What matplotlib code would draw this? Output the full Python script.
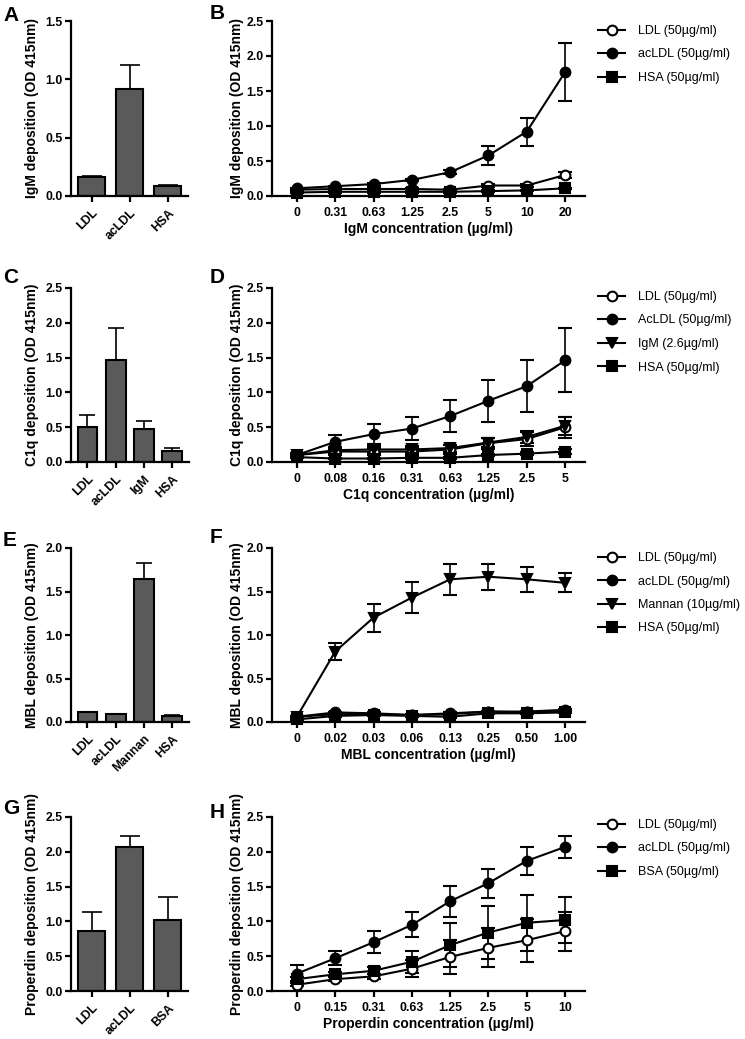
import matplotlib
matplotlib.use('Agg')
import matplotlib.pyplot as plt
import numpy as np
from matplotlib.ticker import FormatStrFormatter

plt.rcParams['font.family'] = ['Liberation Sans', 'DejaVu Sans']
plt.rcParams['font.weight'] = 'bold'
plt.rcParams['axes.labelweight'] = 'bold'

# ---------------- data ----------------
A_cats = ['LDL', 'acLDL', 'HSA']
A_vals = [0.16, 0.92, 0.09]
A_err = [0.01, 0.20, 0.005]

B_x = ['0', '0.31', '0.63', '1.25', '2.5', '5', '10', '20']
B_ldl = [0.09, 0.10, 0.10, 0.10, 0.09, 0.15, 0.15, 0.30]
B_ldl_err = [0.01, 0.01, 0.01, 0.01, 0.01, 0.02, 0.02, 0.04]
B_acldl = [0.11, 0.14, 0.17, 0.23, 0.34, 0.58, 0.92, 1.77]
B_acldl_err = [0.01, 0.01, 0.02, 0.02, 0.03, 0.13, 0.20, 0.41]
B_hsa = [0.05, 0.06, 0.06, 0.06, 0.06, 0.07, 0.08, 0.11]
B_hsa_err = [0.01, 0.01, 0.01, 0.01, 0.01, 0.01, 0.01, 0.01]

C_cats = ['LDL', 'acLDL', 'IgM', 'HSA']
C_vals = [0.51, 1.46, 0.47, 0.16]
C_err = [0.16, 0.46, 0.12, 0.04]

D_x = ['0', '0.08', '0.16', '0.31', '0.63', '1.25', '2.5', '5']
D_ldl = [0.10, 0.15, 0.15, 0.15, 0.18, 0.27, 0.33, 0.50]
D_ldl_err = [0.02, 0.05, 0.05, 0.05, 0.06, 0.08, 0.10, 0.15]
D_acldl = [0.10, 0.29, 0.40, 0.48, 0.66, 0.88, 1.09, 1.46]
D_acldl_err = [0.03, 0.10, 0.14, 0.17, 0.23, 0.30, 0.37, 0.46]
D_igm = [0.10, 0.17, 0.18, 0.18, 0.20, 0.28, 0.36, 0.52]
D_igm_err = [0.02, 0.04, 0.05, 0.05, 0.05, 0.06, 0.08, 0.13]
D_hsa = [0.07, 0.05, 0.05, 0.06, 0.06, 0.10, 0.12, 0.15]
D_hsa_err = [0.01, 0.01, 0.01, 0.01, 0.01, 0.02, 0.02, 0.03]

E_cats = ['LDL', 'acLDL', 'Mannan', 'HSA']
E_vals = [0.11, 0.09, 1.64, 0.07]
E_err = [0.01, 0.005, 0.19, 0.005]

F_x = ['0', '0.02', '0.03', '0.06', '0.13', '0.25', '0.50', '1.00']
F_ldl = [0.06, 0.09, 0.09, 0.08, 0.09, 0.12, 0.11, 0.13]
F_ldl_err = [0.01, 0.01, 0.01, 0.01, 0.01, 0.01, 0.01, 0.01]
F_acldl = [0.06, 0.11, 0.10, 0.08, 0.10, 0.12, 0.12, 0.14]
F_acldl_err = [0.01, 0.01, 0.01, 0.01, 0.01, 0.01, 0.01, 0.01]
F_mannan = [0.06, 0.81, 1.20, 1.43, 1.64, 1.67, 1.64, 1.60]
F_mannan_err = [0.01, 0.10, 0.16, 0.18, 0.18, 0.15, 0.14, 0.11]
F_hsa = [0.03, 0.07, 0.08, 0.07, 0.06, 0.10, 0.10, 0.11]
F_hsa_err = [0.01, 0.01, 0.01, 0.01, 0.01, 0.01, 0.01, 0.01]

G_cats = ['LDL', 'acLDL', 'BSA']
G_vals = [0.86, 2.07, 1.02]
G_err = [0.28, 0.16, 0.33]

H_x = ['0', '0.15', '0.31', '0.63', '1.25', '2.5', '5', '10']
H_ldl = [0.09, 0.17, 0.21, 0.32, 0.49, 0.62, 0.73, 0.86]
H_ldl_err = [0.02, 0.03, 0.04, 0.12, 0.24, 0.28, 0.31, 0.28]
H_acldl = [0.25, 0.47, 0.70, 0.95, 1.29, 1.55, 1.87, 2.07]
H_acldl_err = [0.12, 0.10, 0.16, 0.18, 0.22, 0.21, 0.20, 0.16]
H_bsa = [0.17, 0.24, 0.29, 0.42, 0.66, 0.84, 0.98, 1.02]
H_bsa_err = [0.03, 0.03, 0.05, 0.16, 0.32, 0.38, 0.40, 0.33]

# ---------------- layout ----------------
W, H = 745, 1039
fig = plt.figure(figsize=(W / 100, H / 100), dpi=100)

TICK_FS = 8.8
LABEL_FS = 10
LEG_FS = 9

def ax_at(l, r, t, b):
    return fig.add_axes([l / W, 1 - b / H, (r - l) / W, (b - t) / H])

def style(ax, ymax):
    for s in ['top', 'right']:
        ax.spines[s].set_visible(False)
    for s in ['left', 'bottom']:
        ax.spines[s].set_linewidth(1.6)
    ax.set_ylim(0, ymax)
    ax.set_yticks(np.arange(0, ymax + 1e-9, 0.5))
    ax.yaxis.set_major_formatter(FormatStrFormatter('%.1f'))
    ax.tick_params(width=1.6, length=4.5, labelsize=TICK_FS, pad=1.5)
    ax.tick_params(axis='x', pad=3.5)

def bar_panel(ax, cats, vals, errs, ymax, ylabel, xlim, width, cap):
    x = np.arange(len(cats))
    ax.bar(x, vals, width=width, color='#5a5a5a', edgecolor='black', linewidth=1.5, zorder=2)
    ax.errorbar(x, vals, yerr=[np.zeros(len(vals)), errs], fmt='none', ecolor='black',
                elinewidth=1.2, capsize=cap, capthick=1.2, zorder=1)
    style(ax, ymax)
    ax.set_xlim(*xlim)
    ax.set_xticks(x)
    ax.set_xticklabels(cats, rotation=45, ha='right', rotation_mode='anchor')
    ax.set_ylabel(ylabel, fontsize=LABEL_FS)
    ax.yaxis.set_label_coords((39 - 71) / 117, 0.5)

def line_panel(ax, xl, series, ymax, ylabel, xlabel, leg_xy):
    x = np.arange(len(xl))
    handles, labels = [], []
    for vals, errs, marker, face, ms, label in series:
        eb = ax.errorbar(x, vals, yerr=errs, color='black', marker=marker, mfc=face, mec='black',
                         ms=ms, mew=1.5, lw=1.5, elinewidth=1.2, capsize=5, capthick=1.2,
                         clip_on=False)
        for art in eb.get_children():
            art.set_clip_on(False)
        handles.append(eb.lines[0])
        labels.append(label)
    style(ax, ymax)
    ax.set_xlim(-0.65, 7.52)
    ax.set_xticks(x)
    ax.set_xticklabels(xl)
    ax.set_ylabel(ylabel, fontsize=LABEL_FS)
    ax.yaxis.set_label_coords((244 - 272) / 313, 0.5)
    ax.set_xlabel(xlabel, fontsize=LABEL_FS)
    ax.xaxis.set_label_coords(0.5, (196 - 222) / 174)
    ax.legend(handles, labels, loc='upper left', bbox_to_anchor=(leg_xy[0] / W, 1 - leg_xy[1] / H),
              bbox_transform=fig.transFigure, frameon=False, handlelength=2.16, handletextpad=1.0,
              labelspacing=0.92, borderaxespad=0, borderpad=0,
              prop={'family': 'Liberation Sans', 'weight': 'normal', 'size': LEG_FS})

rows = [(21, 196), (288, 462), (548, 722), (817, 991)]

axA = ax_at(71, 188, *rows[0])
bar_panel(axA, A_cats, A_vals, A_err, 1.5, 'IgM deposition (OD 415nm)', (-0.55, 2.53), 0.71, 7)
axB = ax_at(272, 585, *rows[0])
line_panel(axB, B_x, [
    (B_ldl, B_ldl_err, 'o', 'white', 7, 'LDL (50µg/ml)'),
    (B_acldl, B_acldl_err, 'o', 'black', 7, 'acLDL (50µg/ml)'),
    (B_hsa, B_hsa_err, 's', 'black', 6.5, 'HSA (50µg/ml)'),
], 2.5, 'IgM deposition (OD 415nm)', 'IgM concentration (µg/ml)', (598, 25))

axC = ax_at(71, 189, *rows[1])
bar_panel(axC, C_cats, C_vals, C_err, 2.5, 'C1q deposition (OD 415nm)', (-0.58, 3.59), 0.7, 6)
axD = ax_at(272, 585, *rows[1])
line_panel(axD, D_x, [
    (D_ldl, D_ldl_err, 'o', 'white', 7, 'LDL (50µg/ml)'),
    (D_acldl, D_acldl_err, 'o', 'black', 7, 'AcLDL (50µg/ml)'),
    (D_igm, D_igm_err, 'v', 'black', 7, 'IgM (2.6µg/ml)'),
    (D_hsa, D_hsa_err, 's', 'black', 6.5, 'HSA (50µg/ml)'),
], 2.5, 'C1q deposition (OD 415nm)', 'C1q concentration (µg/ml)', (598, 291))

axE = ax_at(71, 189, *rows[2])
bar_panel(axE, E_cats, E_vals, E_err, 2.0, 'MBL deposition (OD 415nm)', (-0.58, 3.59), 0.7, 6)
axF = ax_at(272, 585, *rows[2])
line_panel(axF, F_x, [
    (F_ldl, F_ldl_err, 'o', 'white', 7, 'LDL (50µg/ml)'),
    (F_acldl, F_acldl_err, 'o', 'black', 7, 'acLDL (50µg/ml)'),
    (F_mannan, F_mannan_err, 'v', 'black', 7, 'Mannan (10µg/ml)'),
    (F_hsa, F_hsa_err, 's', 'black', 6.5, 'HSA (50µg/ml)'),
], 2.0, 'MBL deposition (OD 415nm)', 'MBL concentration (µg/ml)', (598, 552))

axG = ax_at(71, 188, *rows[3])
bar_panel(axG, G_cats, G_vals, G_err, 2.5, 'Properdin deposition (OD 415nm)', (-0.55, 2.53), 0.71, 7)
axH = ax_at(272, 585, *rows[3])
line_panel(axH, H_x, [
    (H_ldl, H_ldl_err, 'o', 'white', 7, 'LDL (50µg/ml)'),
    (H_acldl, H_acldl_err, 'o', 'black', 7, 'acLDL (50µg/ml)'),
    (H_bsa, H_bsa_err, 's', 'black', 6.5, 'BSA (50µg/ml)'),
], 2.5, 'Properdin deposition (OD 415nm)', 'Properdin concentration (µg/ml)', (598, 819))

for letter, (lx, ly) in zip('ABCDEFGH', [(3, 6), (210, 4), (3, 268), (210, 268),
                                        (3, 531), (210, 528), (3, 799), (210, 803)]):
    fig.text(lx / W, 1 - ly / H, letter, fontsize=15, fontweight='bold', va='top', ha='left',
             family='Liberation Sans')

fig.savefig('out.png', dpi=100)
